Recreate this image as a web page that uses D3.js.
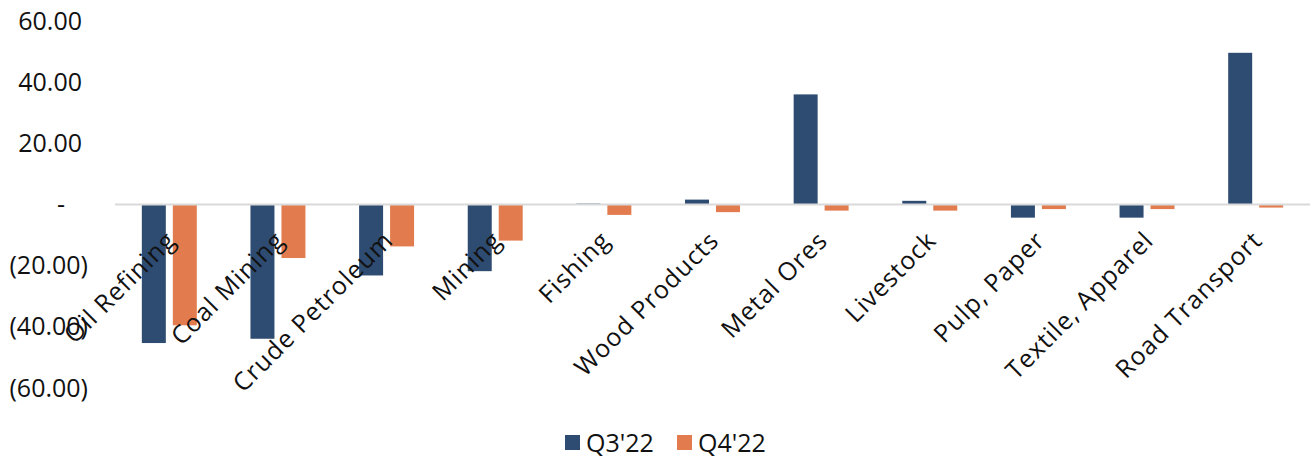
<!DOCTYPE html>
<html>
<head>
<meta charset="utf-8">
<script src="https://cdn.jsdelivr.net/npm/d3@7"></script>
<style>
  body { margin: 0; background: #fff; }
  text { font-family: "Open Sans", sans-serif; fill: #111; }
</style>
</head>
<body>
<div id="chart"></div>
<script>
var categories = ["Oil Refining", "Coal Mining", "Crude Petroleum", "Mining", "Fishing",
  "Wood Products", "Metal Ores", "Livestock", "Pulp, Paper", "Textile, Apparel", "Road Transport"];
var seriesNames = ["Q3'22", "Q4'22"];
var q3Values = [-45.3, -43.9, -23.2, -21.8, 0.3, 1.6, 36.0, 1.2, -4.3, -4.3, 49.6];
var q4Values = [-39.5, -17.5, -13.7, -11.8, -3.4, -2.5, -2.0, -2.0, -1.5, -1.5, -1.0];
var yTicks = [-60, -40, -20, 0, 20, 40, 60];
var colors = ["#2e4b71", "#e27c4e"];

var W = 1312, H = 459;
var plot = {left: 115, right: 1310, top: 21, bottom: 388};

var svg = d3.select("#chart")
  .append("svg")
  .attr("width", W)
  .attr("height", H);

var x = d3.scaleBand()
  .domain(categories)
  .range([plot.left, plot.right])
  .paddingInner(0.494)
  .paddingOuter(0.247);

var xs = d3.scaleBand()
  .domain(seriesNames)
  .range([0, x.bandwidth()])
  .paddingInner(0.226);

var y = d3.scaleLinear()
  .domain([-60, 60])
  .range([plot.bottom, plot.top]);

function fmt(v) {
  if (v === 0) return "-";
  var s = d3.format(",.2f")(Math.abs(v));
  return v < 0 ? "(" + s + ")" : s;
}

// y axis labels only
var yAxis = svg.append("g")
  .attr("transform", "translate(88,0)")
  .call(d3.axisLeft(y).tickValues(yTicks).tickFormat(fmt).tickSize(0).tickPadding(0));
yAxis.select(".domain").remove();
yAxis.selectAll("text")
  .style("font-size", "25px")
  .style("font-family", "'Open Sans', sans-serif")
  .attr("fill", "#111")
  .attr("dx", function(d) { return d > 0 ? -6 : (d === 0 ? -23 : 0); });

// bars
var rows = categories.map(function(c, i) { return {key: c, values: [q3Values[i], q4Values[i]]}; });

var groups = svg.selectAll(".grp")
  .data(rows)
  .enter().append("g")
  .attr("transform", function(d) { return "translate(" + x(d.key) + ",0)"; });

groups.selectAll("rect")
  .data(function(d) { return d.values.map(function(v, j) { return {s: seriesNames[j], v: v, j: j}; }); })
  .enter().append("rect")
  .attr("x", function(d) { return xs(d.s); })
  .attr("width", xs.bandwidth())
  .attr("y", function(d) { return y(Math.max(0, d.v)); })
  .attr("height", function(d) { return Math.abs(y(d.v) - y(0)); })
  .attr("fill", function(d) { return colors[d.j]; });

// zero line
svg.append("line")
  .attr("x1", plot.left).attr("x2", plot.right)
  .attr("y1", y(0)).attr("y2", y(0))
  .attr("stroke", "#d9d9d9")
  .attr("stroke-width", 2);

// category labels
svg.selectAll(".cat")
  .data(categories)
  .enter().append("text")
  .attr("text-anchor", "end")
  .style("font-size", "25px")
  .style("letter-spacing", "1px")
  .attr("transform", function(d) {
    return "translate(" + (x(d) + x.bandwidth() / 2 + 8) + "," + 242 + ") rotate(-45)";
  })
  .text(function(d) { return d; });

// legend
var legend = svg.append("g").attr("transform", "translate(565,0)");
var legItems = legend.selectAll("g")
  .data(seriesNames)
  .enter().append("g")
  .attr("transform", function(d, i) { return "translate(" + (i * 112) + ",0)"; });
legItems.append("rect")
  .attr("x", 0).attr("y", 435)
  .attr("width", 15).attr("height", 15)
  .attr("fill", function(d, i) { return colors[i]; });
legItems.append("text")
  .attr("x", 21).attr("y", 452)
  .style("font-size", "25px")
  .text(function(d) { return d; });
</script>
</body>
</html>
